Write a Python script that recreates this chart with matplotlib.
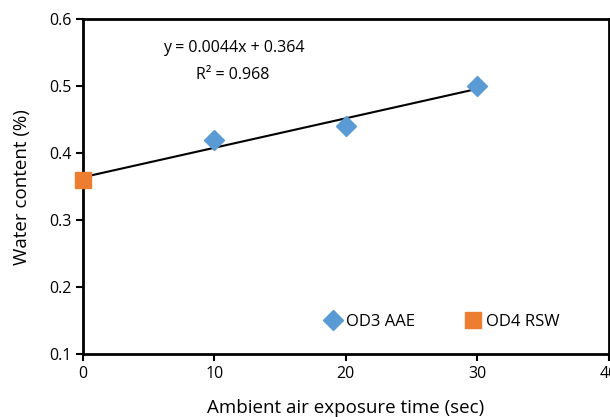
import matplotlib
matplotlib.use('Agg')
import matplotlib.pyplot as plt
import numpy as np

plt.rcParams['font.family'] = ['Open Sans', 'DejaVu Sans']

# data
aae_time = [10, 20, 30]
aae_water = [0.42, 0.44, 0.50]
rsw_time = [0]
rsw_water = [0.36]

fig = plt.figure(figsize=(6.1, 4.17), dpi=100)
ax = fig.add_axes([0.136, 0.151, 0.862, 0.803])

# linear fit over all points
all_x = np.array(rsw_time + aae_time)
all_y = np.array(rsw_water + aae_water)
slope, intercept = np.polyfit(all_x, all_y, 1)
fit_x = np.array([0, 30])
ax.plot(fit_x, slope * fit_x + intercept, color='black', linewidth=1.5, zorder=2)

ax.plot(aae_time, aae_water, 'D', color='#5B9BD5', markersize=10,
        label='OD3 AAE', zorder=3, clip_on=False)
ax.plot(rsw_time, rsw_water, 's', color='#ED7D31', markersize=12,
        label='OD4 RSW', zorder=3, clip_on=False)

ax.text(11.5, 0.557, 'y = 0.0044x + 0.364', ha='center', va='center', fontsize=11.5)
ax.text(11.4, 0.516, 'R² = 0.968', ha='center', va='center', fontsize=11.5)

ax.set_xlim(0, 40)
ax.set_ylim(0.1, 0.6)
ax.set_xticks([0, 10, 20, 30, 40])
ax.set_yticks([0.1, 0.2, 0.3, 0.4, 0.5, 0.6])
ax.set_yticklabels(['0.1', '0.2', '0.3', '0.4', '0.5', '0.6'])
ax.tick_params(direction='out', length=5, width=1.5, labelsize=11.5)
for s in ax.spines.values():
    s.set_linewidth(2)

ax.set_xlabel('Ambient air exposure time (sec)', fontsize=13.5, labelpad=12)
ax.set_ylabel('Water content (%)', fontsize=13.5, labelpad=13)

ax.legend(loc='center', bbox_to_anchor=(0.683, 0.095), ncol=2, frameon=False,
          fontsize=12, handletextpad=0.25, columnspacing=3.0, handlelength=1.0)

plt.savefig('out.png', dpi=100)
plt.close()
